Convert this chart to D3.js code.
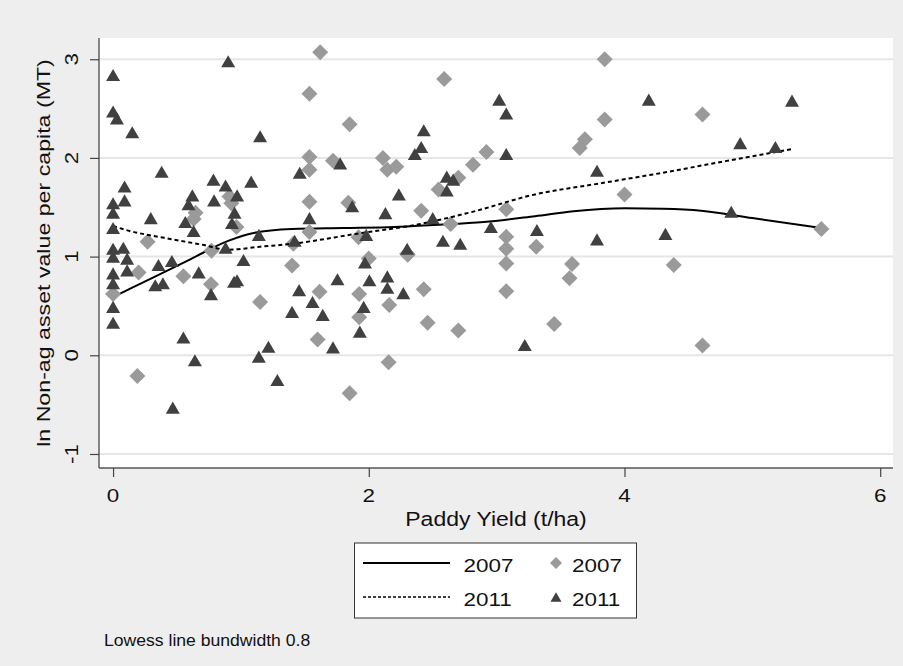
<!DOCTYPE html>
<html>
<head>
<meta charset="utf-8">
<script src="https://cdn.jsdelivr.net/npm/d3@7"></script>
<style>
  body { margin: 0; background: #eeeeee; }
  svg text { font-family: "Liberation Sans", Arial, Helvetica, sans-serif; fill: #111; }
</style>
</head>
<body>
<svg id="chart" width="903" height="666"></svg>
<script>
// Axis ticks
const xTicks = [0, 2, 4, 6];
const yTicks = [-1, 0, 1, 2, 3];

// 2007 households: paddy yield (t/ha) and ln non-ag asset value per capita
const yield2007 = [0.645, 0.63, 0.91, 0.925, 0.965, 0.27, 0.77, 1.41, 1.62, 1.536,
  2.59, 1.85, 1.536, 1.536, 1.72, 2.11, 2.145, 2.215, 2.815, 2.70,
  2.546, 1.536, 1.84, 2.41, 2.64, 1.536, 1.92, 2.30, 3.845, 3.845,
  3.69, 3.65, 2.92, 4.0, 3.075, 3.075, 3.075, 3.31, 3.075, 3.075,
  3.59, 3.57, 3.45, 4.385, 4.61, 4.61, 5.54, 0.0, 0.2, 0.55,
  0.766, 1.15, 0.19, 1.40, 1.615, 1.60, 2.0, 1.925, 1.925, 2.16,
  2.43, 2.46, 2.70, 2.155, 1.85, 2.305];
const asset2007 = [1.445, 1.38, 1.61, 1.54, 1.30, 1.15, 1.06, 1.13, 3.07, 2.65,
  2.80, 2.34, 2.01, 1.88, 1.97, 2.0, 1.88, 1.91, 1.93, 1.80,
  1.68, 1.556, 1.546, 1.465, 1.33, 1.25, 1.195, 1.03, 3.0, 2.39,
  2.19, 2.10, 2.06, 1.63, 1.48, 1.20, 1.08, 1.10, 0.93, 0.65,
  0.925, 0.78, 0.317, 0.915, 0.10, 2.44, 1.28, 0.62, 0.84, 0.80,
  0.72, 0.54, -0.21, 0.91, 0.645, 0.16, 0.98, 0.62, 0.385, 0.51,
  0.67, 0.33, 0.25, -0.07, -0.385, 1.02];

// 2011 households
const yield2011 = [0.0, 0.90, 0.0, 0.03, 0.15, 1.15, 0.38, 0.09, 0.785, 0.88,
  1.08, 0.0, 0.09, 0.0, 0.62, 0.59, 0.79, 0.97, 0.95, 0.295,
  0.565, 0.63, 0.0, 0.93, 1.14, 0.88, 0.0, 0.08, 1.02, 0.46,
  2.43, 2.41, 2.36, 1.776, 1.46, 2.61, 2.66, 2.61, 2.235, 1.87,
  2.13, 1.536, 2.50, 1.98, 1.42, 2.58, 2.715, 2.30, 3.02, 3.075,
  3.075, 4.19, 3.785, 2.955, 3.315, 3.785, 4.32, 3.22, 5.31, 4.905,
  5.18, 4.835, 0.0, 0.0, 0.0, 0.0, 0.0, 0.11, 0.11, 0.355,
  0.33, 0.39, 0.67, 0.766, 0.946, 0.97, 0.55, 0.64, 0.467, 1.215,
  1.14, 1.285, 1.455, 1.56, 1.40, 1.64, 1.755, 1.72, 1.97, 2.005,
  1.96, 1.93, 2.145, 2.145, 2.27];
const asset2011 = [2.84, 2.98, 2.47, 2.40, 2.26, 2.22, 1.86, 1.71, 1.78, 1.72,
  1.76, 1.54, 1.57, 1.445, 1.62, 1.53, 1.57, 1.62, 1.445, 1.39,
  1.35, 1.26, 1.29, 1.34, 1.22, 1.09, 1.08, 1.09, 0.965, 0.955,
  2.28, 2.11, 2.04, 1.945, 1.85, 1.81, 1.78, 1.67, 1.63, 1.51,
  1.44, 1.39, 1.39, 1.22, 1.16, 1.16, 1.13, 1.08, 2.59, 2.45,
  2.04, 2.59, 1.87, 1.30, 1.27, 1.175, 1.23, 0.104, 2.58, 2.15,
  2.11, 1.455, 1.0, 0.83, 0.73, 0.49, 0.33, 0.98, 0.86, 0.915,
  0.71, 0.73, 0.84, 0.62, 0.745, 0.76, 0.18, -0.05, -0.53, 0.087,
  -0.014, -0.25, 0.66, 0.54, 0.44, 0.41, 0.77, 0.08, 0.94, 0.76,
  0.49, 0.24, 0.80, 0.685, 0.63];

// Lowess smooths (bandwidth 0.8)
const lowessX2007 = [0, 0.3, 0.6, 0.9, 1.1, 1.4, 1.8, 2.2, 2.5, 2.9, 3.3, 3.6, 4.0, 4.3, 4.6, 5.0, 5.54];
const lowessY2007 = [0.59, 0.78, 0.97, 1.16, 1.24, 1.28, 1.29, 1.30, 1.32, 1.35, 1.41, 1.46, 1.49, 1.485, 1.465, 1.39, 1.29];
const lowessX2011 = [0, 0.1, 0.4, 0.7, 0.9, 1.15, 1.4, 1.9, 2.4, 2.8, 3.3, 3.8, 4.3, 4.8, 5.31];
const lowessY2011 = [1.31, 1.27, 1.19, 1.12, 1.07, 1.10, 1.13, 1.23, 1.33, 1.45, 1.63, 1.74, 1.85, 1.97, 2.09];

const legendLabels = ["2007", "2011"];
const xTitle = "Paddy Yield (t/ha)";
const yTitle = "ln Non-ag asset value per capita (MT)";
const note = "Lowess line bundwidth 0.8";

const svg = d3.select("#chart");
const W = 903, H = 666;
const plot = { left: 99, right: 893, top: 38, bottom: 468 };

const x = d3.scaleLinear().domain([-0.11, 6.1]).range([plot.left, plot.right]);
const y = d3.scaleLinear().domain([-1.142, 3.215]).range([plot.bottom, plot.top]);

const DIAMOND = "#9a9a9a", TRIANGLE = "#404040";
const STRETCH = 1.18;

svg.append("rect").attr("width", W).attr("height", H).attr("fill", "#eeeeee");
svg.append("rect")
  .attr("x", plot.left).attr("y", plot.top)
  .attr("width", plot.right - plot.left).attr("height", plot.bottom - plot.top)
  .attr("fill", "#ffffff");

// horizontal grid
svg.append("g").selectAll("line").data(yTicks).join("line")
  .attr("x1", plot.left).attr("x2", plot.right)
  .attr("y1", d => y(d)).attr("y2", d => y(d))
  .attr("stroke", "#e6e6e6").attr("stroke-width", 2);

// text helper: wide glyphs, optional rotation
function label(g, tx, ty, str, size, rot, anchor, sx) {
  return g.append("text")
    .attr("transform", `translate(${tx},${ty}) rotate(${rot}) scale(${sx},1)`)
    .attr("text-anchor", anchor)
    .style("font-size", size + "px")
    .text(str);
}

// y axis
const yAxisG = svg.append("g").attr("transform", `translate(${plot.left},0)`)
  .call(d3.axisLeft(y).tickValues(yTicks).tickSize(9).tickFormat(""));
yAxisG.select(".domain").attr("d", `M0,${plot.top}V${plot.bottom}`).attr("stroke", "#555").attr("stroke-width", 1.4);
yAxisG.selectAll(".tick line").attr("stroke", "#444").attr("stroke-width", 1.2);
yTicks.forEach(t => label(svg, 78, y(t), String(t), 19, -90, "middle", STRETCH));

// x axis
const xAxisG = svg.append("g").attr("transform", `translate(0,${plot.bottom})`)
  .call(d3.axisBottom(x).tickValues(xTicks).tickSize(9).tickFormat(""));
xAxisG.select(".domain").attr("d", `M${plot.left},0H${plot.right}`).attr("stroke", "#555").attr("stroke-width", 1.4);
xAxisG.selectAll(".tick line").attr("stroke", "#444").attr("stroke-width", 1.2);
xTicks.forEach(t => label(svg, x(t), 502, String(t), 19, 0, "middle", STRETCH));

// axis titles
label(svg, (plot.left + plot.right) / 2, 525.5, xTitle, 19.5, 0, "middle", STRETCH);
label(svg, 50, (plot.top + plot.bottom) / 2, yTitle, 19, -90, "middle", 1.22);

// marks
const line = d3.line().x(d => x(d[0])).y(d => y(d[1])).curve(d3.curveMonotoneX);
const pts2007 = yield2007.map((v, i) => [v, asset2007[i]]);
const pts2011 = yield2011.map((v, i) => [v, asset2011[i]]);
const low2007 = lowessX2007.map((v, i) => [v, lowessY2007[i]]);
const low2011 = lowessX2011.map((v, i) => [v, lowessY2011[i]]);

const diamondPath = r => `M0,${-r}L${r},0L0,${r}L${-r},0Z`;
const trianglePath = (w) => { const h = w * Math.sqrt(3) / 2; return `M0,${-h / 2}L${w / 2},${h / 2}L${-w / 2},${h / 2}Z`; };

const marks = svg.append("g");
marks.append("path").datum(low2007).attr("d", line)
  .attr("fill", "none").attr("stroke", "#000").attr("stroke-width", 2);
marks.append("g").selectAll("path").data(pts2007).join("path")
  .attr("transform", d => `translate(${x(d[0])},${y(d[1])})`)
  .attr("d", diamondPath(8)).attr("fill", DIAMOND);
marks.append("path").datum(low2011).attr("d", line)
  .attr("fill", "none").attr("stroke", "#000").attr("stroke-width", 2).attr("stroke-dasharray", "4,3");
marks.append("g").selectAll("path").data(pts2011).join("path")
  .attr("transform", d => `translate(${x(d[0])},${y(d[1])})`)
  .attr("d", trianglePath(14)).attr("fill", TRIANGLE);

// legend
const lg = svg.append("g");
lg.append("rect").attr("x", 354.5).attr("y", 543).attr("width", 282).attr("height", 75)
  .attr("fill", "#fff").attr("stroke", "#333").attr("stroke-width", 1);
const rows = [563, 597];
lg.append("line").attr("x1", 363).attr("x2", 450).attr("y1", rows[0]).attr("y2", rows[0])
  .attr("stroke", "#000").attr("stroke-width", 2);
lg.append("line").attr("x1", 363).attr("x2", 450).attr("y1", rows[1]).attr("y2", rows[1])
  .attr("stroke", "#000").attr("stroke-width", 1.5).attr("stroke-dasharray", "3,2");
lg.append("path").attr("transform", `translate(556,${rows[0]})`).attr("d", diamondPath(6)).attr("fill", DIAMOND);
lg.append("path").attr("transform", `translate(556,${rows[1]})`).attr("d", trianglePath(11)).attr("fill", TRIANGLE);
legendLabels.forEach((t, i) => {
  label(lg, 463.5, rows[i] + 8.5, t, 19, 0, "start", STRETCH);
  label(lg, 572, rows[i] + 8.5, t, 19, 0, "start", STRETCH);
});

// note
label(svg, 104, 645.5, note, 16, 0, "start", 1.1);
</script>
</body>
</html>
